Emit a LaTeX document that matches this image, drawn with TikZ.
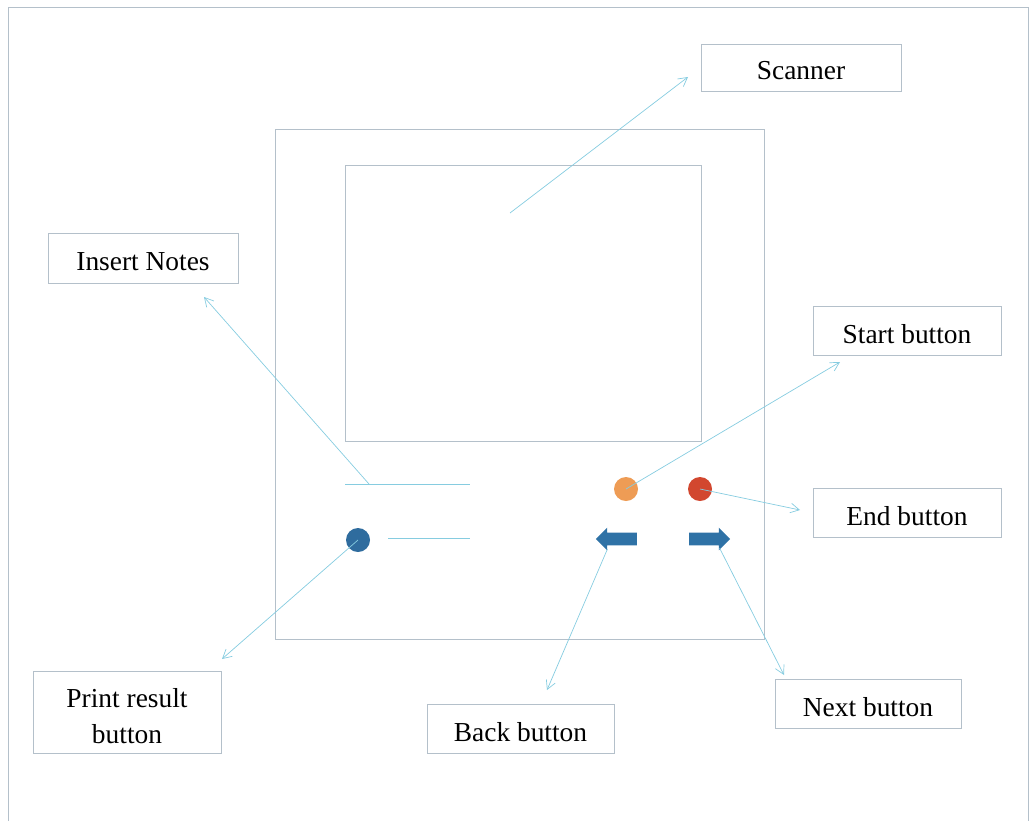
\documentclass[tikz,border=0pt]{standalone}
\usepackage{fontspec}
\setmainfont{Liberation Serif}
\usetikzlibrary{arrows.meta,shapes.arrows}
\definecolor{framegray}{HTML}{B4C0CA}
\definecolor{linkblue}{HTML}{86CCE0}
\definecolor{btnblue}{HTML}{2F6C9E}
\definecolor{btnorange}{HTML}{EE9C55}
\definecolor{btnred}{HTML}{D2472F}
\definecolor{arrowblue}{HTML}{2F72A6}
\begin{document}
\begin{tikzpicture}[x=0.025cm,y=-0.025cm,
	every node/.style={font=\fontsize{19.5}{25.6}\selectfont},
	lbl/.style={draw=framegray,line width=0.5pt,minimum width=4.7cm,minimum height=1.22cm,inner sep=0pt,text height=17.6pt,text depth=0pt},
	link/.style={draw=linkblue,line width=0.5pt,-{Straight Barb[length=2.2mm,width=2.4mm]}},
	knob/.style={circle,minimum size=0.6cm,inner sep=0pt},
	navarrow/.style={single arrow,fill=arrowblue,inner sep=0.15cm,minimum height=1.025cm,single arrow head extend=0.125cm,font=\tiny}]
		\useasboundingbox (0,0) rectangle (1030,821);
		\draw[framegray,line width=0.5pt] (8,821) -- (8,7) -- (1028,7) -- (1028,821); % page frame
		\node[draw=framegray,line width=0.5pt,minimum width=12.225cm,minimum height=12.75cm] (device) at (519.5,384) {}; % machine
		\node[draw=framegray,line width=0.5pt,minimum width=8.9cm,minimum height=6.9cm] (screen) at (523,303) {}; % scanner area
		\draw[linkblue,line width=0.6pt] (345,484) -- (470,484); % notes slot
		\draw[linkblue,line width=0.6pt] (388,538) -- (470,538); % print slot
		\node[knob,fill=btnblue] (print) at (358,540) {};
		\node[knob,fill=btnorange] (start) at (626,489) {};
		\node[knob,fill=btnred] (end) at (700,489) {};
		\node[navarrow,shape border rotate=180] (back) at (619.5,539) {};
		\node[navarrow] (next) at (706.5,539) {};
		% labels
		\node[lbl,minimum width=5cm,minimum height=1.18cm] (scannerlbl) at (801,67.5) {Scanner};
		\node[lbl,minimum width=4.75cm,minimum height=1.25cm] (noteslbl) at (143,258) {Insert Notes};
		\node[lbl] (startlbl) at (907,331) {Start button};
		\node[lbl] (endlbl) at (907,513) {End button};
		\node[lbl,minimum width=4.65cm] (nextlbl) at (868,704) {Next button};
		\node[lbl,minimum width=4.675cm] (backlbl) at (520.5,729) {Back button};
		\node[draw=framegray,line width=0.5pt,minimum width=4.7cm,minimum height=2.05cm] (printlbl) at (127,712) {};
		\node[align=center] (printtxt) at (127,716) {Print result\\button};
		% connector ends
		\coordinate (scanpt) at (510,213);
		\coordinate (notespt) at (369,484);
		\coordinate (scannertip) at (688,77);
		\coordinate (notestip) at (204,297);
		\coordinate (starttip) at (840,362);
		\coordinate (endtip) at (800,510);
		\coordinate (printtip) at (222,659);
		\coordinate (backtip) at (547,690);
		\coordinate (nexttip) at (784,675);
		\draw[link] (scanpt) -- (scannertip);
		\draw[link] (notespt) -- (notestip);
		\draw[link] (start.center) -- (starttip);
		\draw[link] (end.center) -- (endtip);
		\draw[link] (print.center) -- (printtip);
		\draw[link] ([shift={(12,10)}]back.tip) -- (backtip);
		\draw[link] ([shift={(-11,9)}]next.tip) -- (nexttip);
	\end{tikzpicture}
\end{document}
